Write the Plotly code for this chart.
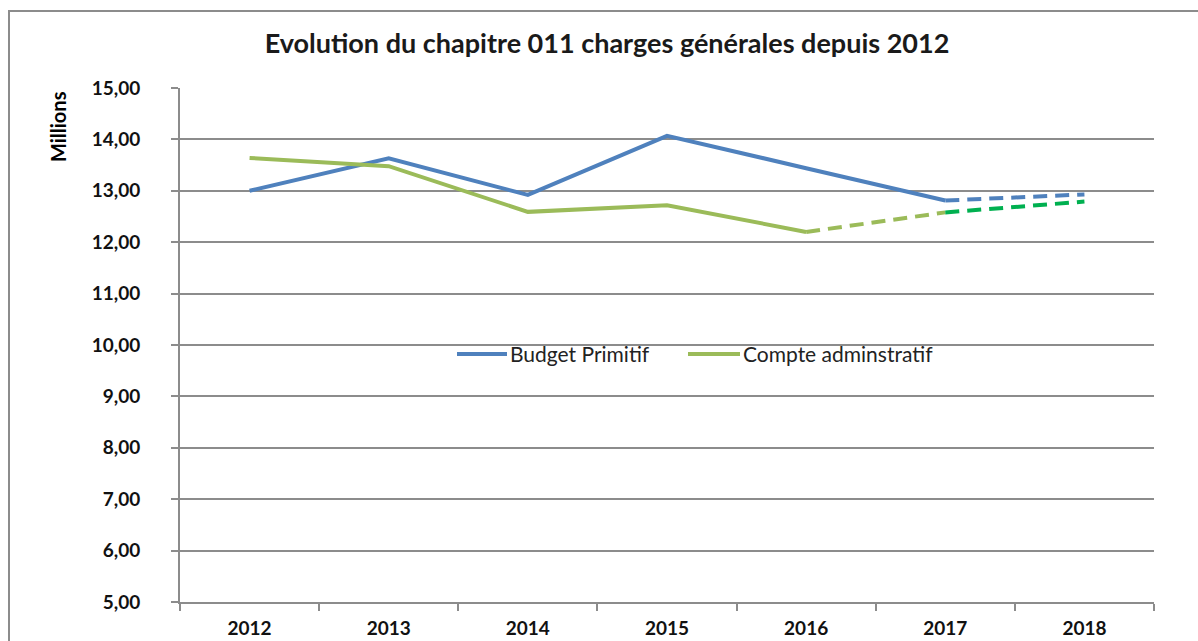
import plotly.graph_objects as go

# Données du chapitre 011 (en millions d'euros)
annees = ["2012", "2013", "2014", "2015", "2016", "2017", "2018"]
budget_primitif = [13.00, 13.63, 12.92, 14.07, 13.44, 12.81, 12.93]
compte_administratif = [13.64, 13.48, 12.59, 12.72, 12.20, 12.58, 12.79]
y_ticks = [5, 6, 7, 8, 9, 10, 11, 12, 13, 14, 15]
y_tick_labels = ["5,00", "6,00", "7,00", "8,00", "9,00", "10,00",
                 "11,00", "12,00", "13,00", "14,00", "15,00"]
series_noms = ["Budget Primitif", "Compte adminstratif"]

BLEU = "#4F81BD"
VERT = "#9BBB59"
VERT_FONCE = "#00B050"
GRIS = "#8C8C8C"
POLICE = "Lato"
DASH = "14px,8px"

# Zone de tracé (pixels) pour placer les éléments en coordonnées papier
L, R, T, B, W, H = 180, 44, 88, 39, 1198, 641
PW, PH = W - L - R, H - T - B


def px(x):
    return (x - L) / PW


def py(y):
    return (H - B - y) / PH


fig = go.Figure()

# Budget primitif : réalisé jusqu'en 2017, prévision 2018 en pointillés
fig.add_trace(go.Scatter(
    x=annees[:6], y=budget_primitif[:6], mode="lines", name=series_noms[0],
    line=dict(color=BLEU, width=4)))
fig.add_trace(go.Scatter(
    x=annees[5:], y=budget_primitif[5:], mode="lines", name=series_noms[0],
    line=dict(color=BLEU, width=4, dash=DASH)))

# Compte administratif : réalisé jusqu'en 2016, estimations ensuite
fig.add_trace(go.Scatter(
    x=annees[:5], y=compte_administratif[:5], mode="lines", name=series_noms[1],
    line=dict(color=VERT, width=4)))
fig.add_trace(go.Scatter(
    x=annees[4:6], y=compte_administratif[4:6], mode="lines", name=series_noms[1],
    line=dict(color=VERT, width=4, dash=DASH)))
fig.add_trace(go.Scatter(
    x=annees[5:], y=compte_administratif[5:], mode="lines", name=series_noms[1],
    line=dict(color=VERT_FONCE, width=4, dash=DASH)))

fig.update_layout(
    width=W, height=H,
    margin=dict(l=L, r=R, t=T, b=B),
    paper_bgcolor="white", plot_bgcolor="white",
    font=dict(family=POLICE, color="#000000"),
    showlegend=False,
    title=dict(
        text="<b>Evolution du chapitre 011 charges générales depuis 2012</b>",
        xref="container", x=607 / W, xanchor="center",
        yref="container", y=1 - 44 / H, yanchor="middle",
        font=dict(family=POLICE, size=27, color="#1a1a1a")),
    xaxis=dict(
        type="category", range=[-0.5, len(annees) - 0.5],
        tickson="boundaries", ticks="outside", ticklen=7,
        tickcolor=GRIS, tickwidth=2, showline=True, linecolor=GRIS, linewidth=2,
        showgrid=False, automargin=False,
        tickfont=dict(family=POLICE, size=19, color="#111111", weight="bold"),
        ticklabelstandoff=8, fixedrange=True),
    yaxis=dict(
        range=[5, 15], tickvals=y_ticks, ticktext=y_tick_labels,
        ticks="outside", ticklen=7, tickcolor=GRIS, tickwidth=2,
        showline=True, linecolor=GRIS, linewidth=2,
        showgrid=True, gridcolor=GRIS, gridwidth=2, zeroline=False,
        automargin=False,
        tickfont=dict(family=POLICE, size=19, color="#111111", weight="bold"),
        ticklabelstandoff=27, fixedrange=True),
)

# Légende intégrée au tracé
legende = [(series_noms[0], BLEU, 457, 507), (series_noms[1], VERT, 688, 740)]
for nom, couleur, x0, x1 in legende:
    fig.add_shape(type="line", xref="paper", yref="paper",
                  x0=px(x0), x1=px(x1), y0=py(354), y1=py(354),
                  line=dict(color=couleur, width=4))
    fig.add_annotation(text=nom, xref="paper", yref="paper",
                       x=px(x1 + 1), y=py(354), xanchor="left", yanchor="middle",
                       showarrow=False,
                       font=dict(family=POLICE, size=21, color="#222222"))

# Titre de l'axe vertical
fig.add_annotation(
    text="<b>Millions</b>", xref="paper", yref="paper",
    x=px(58), y=py(127), textangle=-90, showarrow=False,
    font=dict(family=POLICE, size=20, color="#000000"),
    xanchor="center", yanchor="middle")

# Cadre du graphique
fig.add_shape(
    type="rect", xref="paper", yref="paper",
    x0=px(9), x1=1.2, y0=-0.3, y1=py(11),
    line=dict(color=GRIS, width=2), fillcolor="rgba(0,0,0,0)", layer="below")

fig.write_html("out.html")
